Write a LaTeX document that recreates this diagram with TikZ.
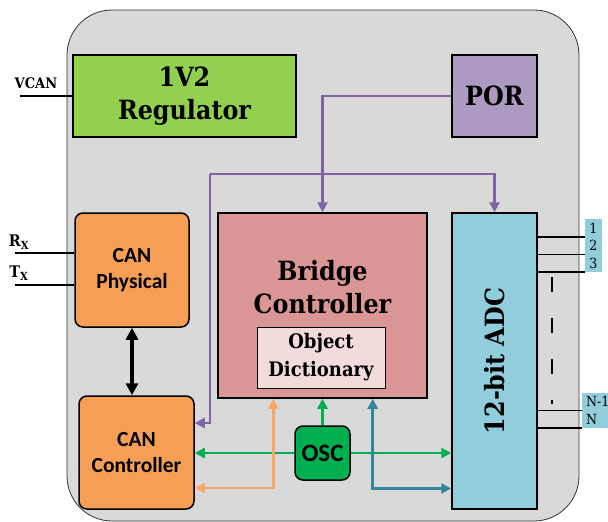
\documentclass[tikz,border=0pt]{standalone}
\usepackage{fontspec}
\setmainfont{DejaVu Serif Condensed}
\newfontfamily\calib{Carlito}
\newfontfamily\pinfont{DejaVu Serif Condensed}
\usetikzlibrary{arrows.meta,calc}
\definecolor{cBack}{HTML}{D9D9D9}
\definecolor{cReg}{HTML}{92D050}
\definecolor{cPor}{HTML}{AD9AC3}
\definecolor{cPorLine}{HTML}{8064A2}
\definecolor{cBridge}{HTML}{D99694}
\definecolor{cDict}{HTML}{F2DCDB}
\definecolor{cAdc}{HTML}{92CDDC}
\definecolor{cCan}{HTML}{F59E56}
\definecolor{cOsc}{HTML}{00B050}
\definecolor{cOrange}{HTML}{F7A868}
\definecolor{cTeal}{HTML}{31859C}

\begin{document}
\begin{tikzpicture}[x=1pt, y=-1pt,
  box/.style={draw=black, line width=1.5pt, inner sep=0pt, align=center},
  big/.style={font=\fontsize{26.5}{33}\selectfont\bfseries},
  canbox/.style={box, fill=cCan, rounded corners=8pt,
    font=\calib\fontsize{21.5}{26}\selectfont\bfseries},
  wire/.style={line width=2.8pt},
  tip/.style={-{Triangle[length=10pt,width=10pt]}},
  pinlbl/.style={fill=cAdc, inner sep=0pt, minimum height=17.5pt,
    font=\pinfont\fontsize{14}{14}\selectfont}]

  \useasboundingbox (0,0) rectangle (608,522);

  % ---- chip outline ----
  \draw[fill=cBack, draw=black!80, line width=0.8pt, rounded corners=45pt]
    (67,10) rectangle (579,521);

  % ---- blocks ----
  \node[box, big, fill=cReg, minimum width=223pt, minimum height=82pt]
    (reg) at (184.5,96) {1V2\\Regulator};
  \node[box, big, fill=cPor, minimum width=85pt, minimum height=82pt]
    (por) at (494.5,96) {POR};
  \node[box, fill=cBridge, minimum width=209pt, minimum height=185pt]
    (bridge) at (322.5,305.5) {};
  \node[big, align=center] (bridgetxt) at (322.5,287) {Bridge\\Controller};
  \node[box, fill=cDict, line width=0.8pt, minimum width=128pt, minimum height=61pt,
    font=\fontsize{20}{28}\selectfont\bfseries]
    (dict) at (321,357.5) {Object\\Dictionary};
  \node[box, fill=cAdc, minimum width=85pt, minimum height=296pt]
    (adc) at (494.5,361) {};
  \node[big, rotate=90] (adctxt) at (494.5,361) {12-bit ADC};
  \node[canbox, minimum width=114pt, minimum height=114pt]
    (phys) at (132,270) {CAN\\Physical};
  \node[canbox, minimum width=115pt, minimum height=113pt]
    (ctrl) at (136.5,452.5) {CAN\\Controller};
  \node[canbox, fill=cOsc, minimum width=55pt, minimum height=54pt,
    font=\calib\fontsize{25}{26}\selectfont\bfseries]
    (osc) at (322.5,453) {OSC};

  % ---- outside pins ----
  \node[font=\fontsize{14.5}{16}\selectfont\bfseries] (vcantxt) at (36,83) {VCAN};
  \node[font=\fontsize{16}{16}\selectfont\bfseries] (rxtxt) at (19,242) {R\textsubscript{X}};
  \node[font=\fontsize{16}{16}\selectfont\bfseries] (txtxt) at (19,273) {T\textsubscript{X}};
  \coordinate (vcan) at (20,96);
  \coordinate (rx) at (15,253);
  \coordinate (tx) at (15,285);
  \draw[line width=1.5pt] (vcan) -- (reg.west);
  \draw[line width=1.5pt] (rx) -- (rx -| phys.west);
  \draw[line width=1.5pt] (tx) -- (tx -| phys.west);

  % ---- CAN physical <-> controller ----
  \draw[line width=3.4pt, {Triangle[length=12pt,width=12pt]}-{Triangle[length=12pt,width=12pt]}]
    (phys.south) -- (phys.south |- ctrl.north);

  % ---- reset lines ----
  \coordinate (pj) at (210,174);
  \draw[wire, cPorLine, tip] (por.west) -| (bridge.north);
  \draw[wire, cPorLine, tip] (pj) -| (adc.north);
  \draw[wire, cPorLine, tip] (pj) |- ($(ctrl.east)+(0,-29.5)$);

  % ---- clock ----
  \draw[wire, cOsc, tip] (osc.west) -- (osc.west -| ctrl.east);
  \draw[wire, cOsc, tip] (osc.east) -- (osc.east -| adc.west);
  \draw[wire, cOsc, tip] (osc.north) -- (bridge.south);

  % ---- data buses ----
  \draw[wire, cOrange, {Triangle[length=10pt,width=10pt]}-{Triangle[length=10pt,width=10pt]}]
    ($(bridge.south west)+(56,0)$) |- ($(ctrl.east)+(0,35.5)$);
  \draw[wire, cTeal, {Triangle[length=10pt,width=10pt]}-{Triangle[length=10pt,width=10pt]}]
    ($(bridge.south east)+(-55,0)$) |- ($(adc.west)+(0,127.5)$);

  % ---- analog inputs ----
  \node[pinlbl, minimum width=17pt] (p1) at (593.5,228) {1};
  \node[pinlbl, minimum width=17pt] (p2) at (593.5,245.5) {2};
  \node[pinlbl, minimum width=17pt] (p3) at (593.5,263) {3};
  \node[pinlbl, anchor=west, text width=28pt, inner xsep=4pt, align=left]
    (pn1) at (582,401.5) {N-1};
  \node[pinlbl, anchor=west, text width=28pt, inner xsep=4pt, align=left]
    (pn) at (582,419) {N};
  \foreach \p in {p1,p2,p3,pn1,pn}{
    \draw[line width=1.6pt] (adc.east |- \p.south west) -- (\p.south west);
  }
  \coordinate (dtop) at (552,277);
  \coordinate (dbot) at (552,404);
  \draw[line width=1.8pt, dash pattern=on 15pt off 26pt] (dtop) -- (dbot);

\end{tikzpicture}
\end{document}
